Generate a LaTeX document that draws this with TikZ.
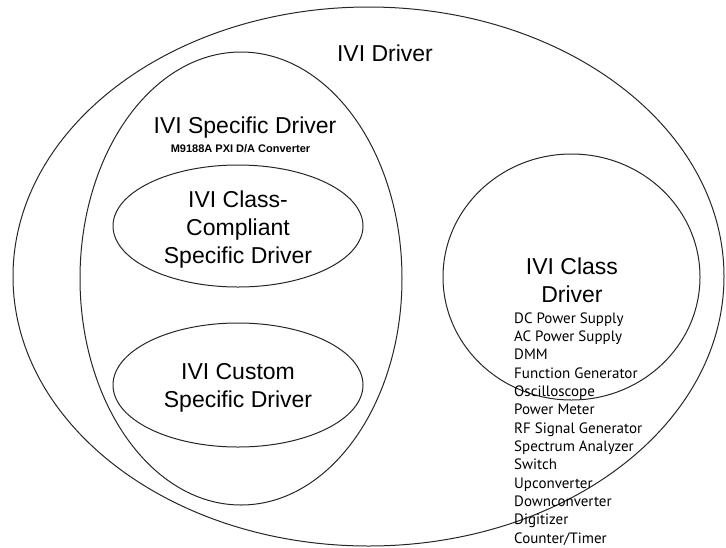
\documentclass[tikz,border=0pt]{standalone}
\usepackage{fontspec}
\setmainfont{Liberation Sans}
\newfontfamily\listfont{PT Sans}
\begin{document}
\begin{tikzpicture}[x=1pt,y=-1pt,
  ring/.style={draw=black!85,line width=1pt},
  bigtxt/.style={font=\fontsize{23}{28}\selectfont,align=center,inner sep=0pt,anchor=base},
  subtxt/.style={font=\fontsize{11}{13}\selectfont\bfseries,inner sep=0pt,anchor=base},
  listtxt/.style={font=\listfont\fontsize{15}{18.33}\selectfont,align=left,inner sep=0pt,anchor=base west}]
\useasboundingbox (0,0) rectangle (726,547);
% shapes
\draw[ring] (368.5,276.5) ellipse [x radius=355.5pt, y radius=269.5pt];
\draw[ring] (241,278.5) ellipse [x radius=161pt, y radius=226.5pt];
\draw[ring] (238,226) ellipse [x radius=125pt, y radius=61pt];
\draw[ring] (238,385) ellipse [x radius=125pt, y radius=62pt];
\draw[ring] (571.5,277) ellipse [x radius=128.5pt, y radius=123pt];
% labels (base = baseline of the last line)
\node[bigtxt] (ivi) at (385,61) {IVI Driver};
\node[bigtxt] (spec) at (245,133) {IVI Specific Driver};
\node[subtxt] (m9188) at (240.5,152) {M9188A PXI D/A Converter};
\node[bigtxt] (comp) at (238,263) {IVI Class-\\Compliant\\Specific Driver};
\node[bigtxt] (cust) at (238,407) {IVI Custom\\Specific Driver};
\node[bigtxt] (cls) at (572,302) {IVI Class\\Driver};
\node[listtxt] (list) at (514,543) {DC Power Supply\\AC Power Supply\\DMM\\Function Generator\\Oscilloscope\\Power Meter\\RF Signal Generator\\Spectrum Analyzer\\Switch\\Upconverter\\Downconverter\\Digitizer\\Counter/Timer};
\end{tikzpicture}
\end{document}
